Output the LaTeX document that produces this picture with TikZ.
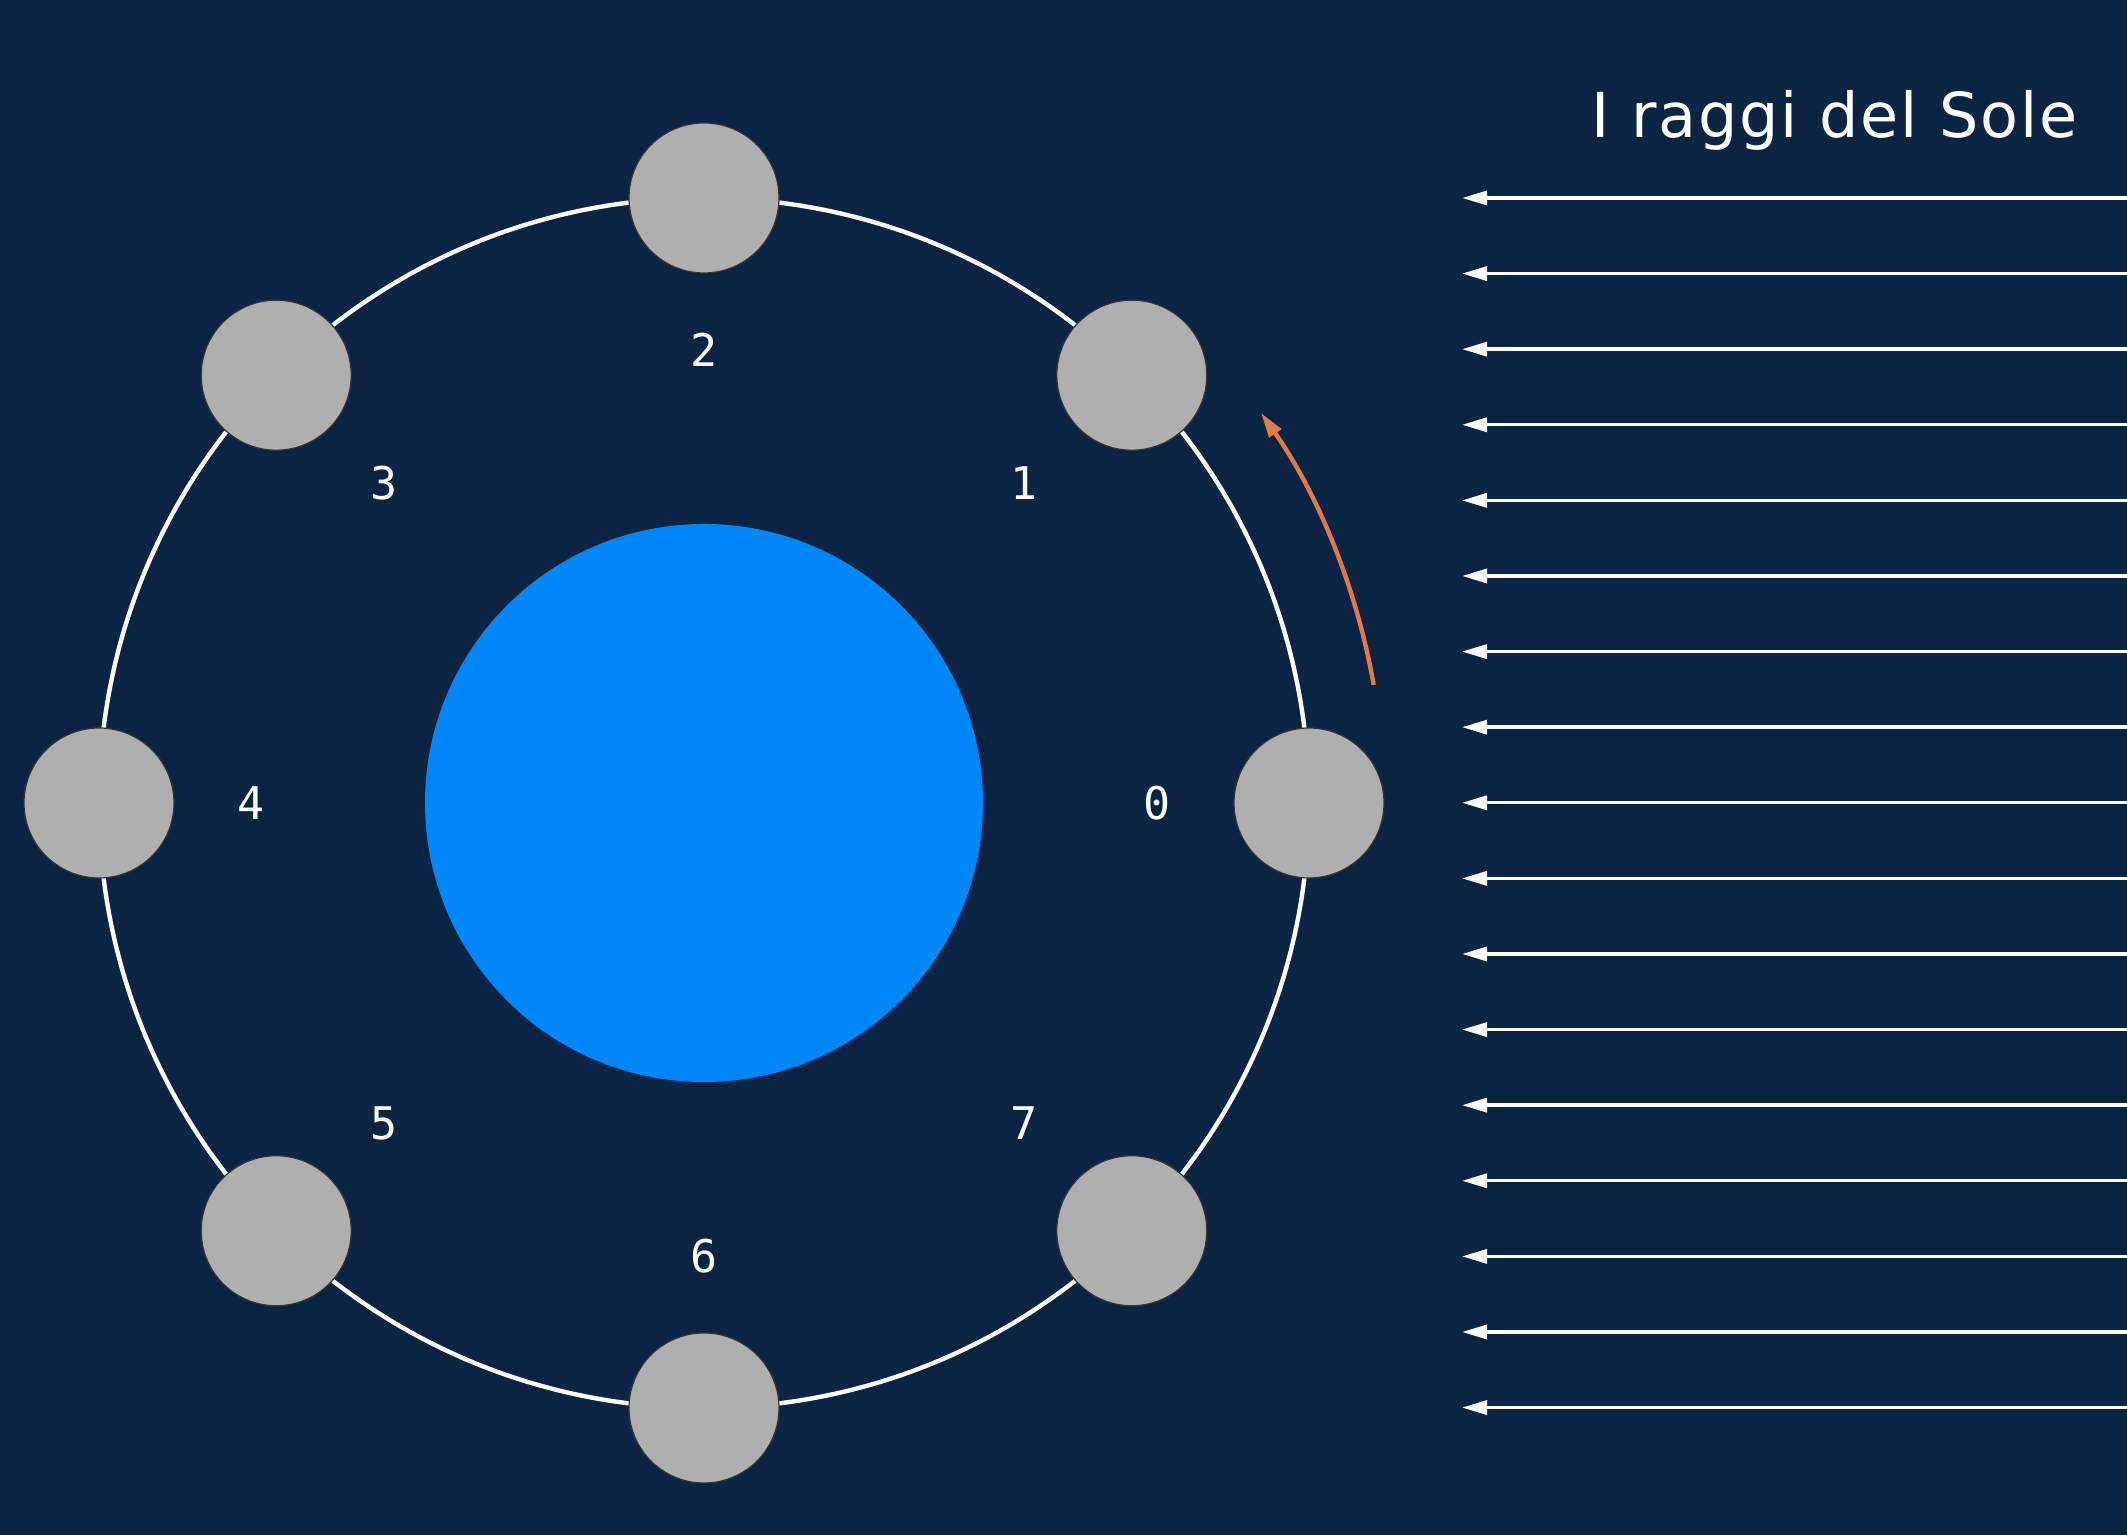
\documentclass[tikz,border=0pt]{standalone}
\usepackage{fontspec}
\setmainfont{DejaVu Sans}
\newfontfamily\digitfont{DejaVu Sans Mono}
\usetikzlibrary{arrows.meta, calc}
\definecolor{nightbg}{RGB}{11,36,68}
\definecolor{earthblue}{RGB}{0,136,250}
\definecolor{moongray}{RGB}{175,175,175}
\definecolor{orbitorange}{RGB}{224,122,72}

\begin{document}
\begin{tikzpicture}[
  x=0.5pt, y=0.5pt,
  earthdisc/.style={circle, fill=earthblue, minimum size=279pt, inner sep=0pt},
  moon/.style={circle, fill=moongray, draw=black!80, line width=0.6pt, minimum size=75pt, inner sep=0pt},
  num/.style={text=white, font=\digitfont\fontsize{22.5}{27}\selectfont, inner sep=0pt},
  title/.style={text=white, font=\addfontfeature{LetterSpace=3}\fontsize{31}{37}\selectfont, inner sep=0pt},
  orbit/.style={draw=white, line width=2.2pt},
  ray/.style={-{Triangle[length=12.5pt, width=7pt]}, draw=white, line width=1.7pt},
  turn/.style={-{Triangle[length=12.5pt, width=7pt]}, draw=orbitorange, line width=2.2pt}
]
\fill[nightbg] (0,0) rectangle (2127,1535);
\useasboundingbox (0,0) rectangle (2127,1535);

% Nodes
\node[earthdisc] (earth) at (704,732) {};
\draw[orbit] (earth.center) circle[radius=302.5pt];
\foreach \i in {0,...,7} {
  \node[moon] (moon\i) at ([shift={(\i*45:302.5pt)}]earth.center) {};
  \node[num] (phase\i) at ([shift={(\i*45:226.5pt)}]earth.center) {\i};
}
\node[title, anchor=base west] (sunlabel) at (1591,1397) {I raggi del Sole};

% Arrows
\foreach \k in {0,...,16} {
  \coordinate (raystart\k) at (2127,{1337-75.6*\k});
  \coordinate (rayend\k) at (1462,{1337-75.6*\k});
  \draw[ray] (raystart\k) -- (rayend\k);
}
\draw[turn] ([shift={(10:340pt)}]earth.center) arc[start angle=10, end angle=35, radius=340pt];
\end{tikzpicture}
\end{document}
